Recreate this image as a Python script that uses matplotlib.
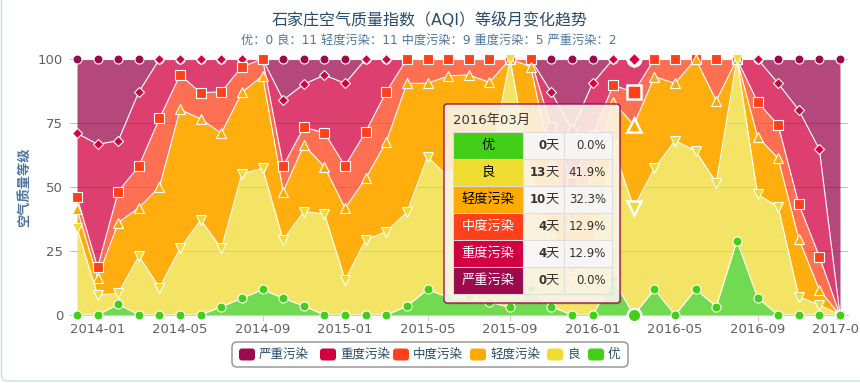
import numpy as np
import pandas as pd
import matplotlib.pyplot as plt
from matplotlib.patches import FancyBboxPatch, Rectangle

plt.rcParams['font.family'] = ['DejaVu Sans', 'Noto Sans CJK SC']

# months 2013-12 .. 2017-01
months = list(pd.date_range('2013-12-01', periods=38, freq='MS').strftime('%Y-%m'))

categories = ['优', '良', '轻度污染', '中度污染', '重度污染', '严重污染']
colors = ['#43CE17', '#EFDC31', '#FFAA00', '#FF401A', '#D20040', '#9C0A4E']
fill_alpha = [0.75, 0.75, 0.95, 0.75, 0.75, 0.75]
markers = ['o', 'v', '^', 's', 'D', 'o']
marker_sizes = [6.5, 7, 7, 6.5, 5, 6.5]

# share of days per level (%)
excellent = [0, 0, 4.2, 0, 0, 0, 0, 3.3, 6.5, 10.0, 6.5, 3.5, 0, 0, 0, 0, 3.5, 10.0, 6.9, 6.9,
             5.0, 3.0, 10.0, 3.3, 0, 0, 13.9, 0, 10.0, 0, 10.0, 3.3, 29.0, 6.8, 0, 0, 0, 0]
good = [33.9, 7.8, 4.3, 23.0, 10.7, 26.0, 37.1, 22.7, 48.6, 47.3, 22.8, 36.9, 39.5, 13.7, 29.3, 32.6,
        36.6, 51.8, 47.1, 53.1, 53.0, 97.0, 45.0, 26.7, 15.0, 25.0, 51.8, 41.9, 47.3, 68.1, 54.1, 48.4,
        71.0, 40.3, 42.3, 7.2, 3.9, 0]
light = [7.5, 6.7, 27.6, 18.9, 39.4, 54.3, 39.5, 45.0, 31.9, 36.1, 18.9, 26.0, 18.4, 28.0, 24.1, 35.1,
         50.4, 28.7, 39.4, 33.8, 32.9, 0, 42.0, 29.5, 20.0, 30.0, 17.6, 32.3, 35.8, 22.4, 35.9, 32.0,
         0, 22.6, 18.9, 22.6, 5.9, 0]
moderate = [4.6, 4.1, 12.1, 16.3, 26.7, 13.5, 10.2, 16.2, 10.0, 6.6, 10.0, 6.9, 13.3, 16.5, 18.2, 19.5,
            9.5, 9.5, 6.6, 6.2, 9.1, 0, 3.0, 13.9, 17.0, 15.0, 6.5, 12.9, 6.9, 9.5, 0, 16.3,
            0, 13.6, 13.0, 13.6, 13.0, 0]
heavy = [25.0, 48.1, 19.9, 29.0, 23.2, 6.2, 13.2, 12.8, 3.0, 0, 25.8, 16.9, 22.5, 32.3, 28.4, 12.8,
         0, 0, 0, 0, 0, 0, 0, 13.6, 20.3, 20.5, 10.2, 12.9, 0, 0, 0, 0, 0, 16.7, 16.3, 36.7, 41.9, 0]
severe = [29.0, 33.3, 31.9, 12.8, 0, 0, 0, 0, 0, 0, 16.0, 9.8, 6.3, 9.5, 0, 0, 0, 0, 0, 0,
          0, 0, 0, 13.0, 27.7, 9.5, 0, 0, 0, 0, 0, 0, 0, 0, 9.5, 19.9, 35.3, 100]

# tooltip month (days per level)
tip_month = '2016年03月'
tip_index = months.index('2016-03')
tip_days = [0, 13, 10, 4, 4, 0]

title = '石家庄空气质量指数（AQI）等级月变化趋势'
subtitle = '优：0 良：11 轻度污染：11 中度污染：9 重度污染：5 严重污染：2'

data = np.array([excellent, good, light, moderate, heavy, severe], dtype=float)
pct = data / data.sum(axis=0) * 100
cum = np.cumsum(pct, axis=0)
x = np.arange(len(months))

W, H = 860, 383
fig = plt.figure(figsize=(W / 100, H / 100), dpi=100)
ax = fig.add_axes([77 / W, 1 - 315 / H, (848 - 77) / W, (315 - 59) / H])

base = np.zeros(len(x))
for k in range(6):
    ax.fill_between(x, base, cum[k], color=colors[k], alpha=fill_alpha[k], lw=0, zorder=2)
    base = cum[k]
for k in range(6):
    ax.plot(x, cum[k], color='white', lw=0.8, zorder=3)
for k in reversed(range(6)):
    ax.plot(x, cum[k], ls='none', marker=markers[k], ms=marker_sizes[k], mfc=colors[k],
            mec='white', mew=0.8, zorder=4, clip_on=False)
# hovered month
for k in reversed(range(6)):
    ax.plot(x[tip_index], cum[k][tip_index], ls='none', marker=markers[k], ms=marker_sizes[k] * 1.5,
            mfc=colors[k], mec='white', mew=1.8, zorder=5, clip_on=False)

ax.set_xlim(0, len(x) - 1 + 8 / 20.6)
ax.set_ylim(0, 100)
ax.set_yticks([0, 25, 50, 75, 100])
ticks = list(range(1, len(x), 4))
ax.set_xticks(ticks, [months[i] for i in ticks])
ax.yaxis.grid(True, color='#C0C0C0', lw=0.75)
ax.set_axisbelow(True)
for s in ['top', 'right', 'left']:
    ax.spines[s].set_visible(False)
ax.spines['bottom'].set_color('#C0D0E0')
ax.tick_params(axis='x', length=4, color='#C0D0E0', pad=2, labelsize=9.5, labelcolor='#606060')
ax.tick_params(axis='y', length=5, color='#C0C0C0', pad=5, labelsize=9.5, labelcolor='#606060')

# overlay in pixel coords for titles, tooltip and legend
ov = fig.add_axes([0, 0, 1, 1], zorder=10)
ov.set_xlim(0, W)
ov.set_ylim(H, 0)
ov.axis('off')

ov.add_patch(FancyBboxPatch((1.5, -20), W + 40, 401, boxstyle='round,pad=0,rounding_size=6',
                            fc='none', ec='#C4E0EA', lw=1))
ov.text(430, 20, title, ha='center', va='center', fontsize=11.5, color='#274b6d')
ov.text(429, 40, subtitle, ha='center', va='center', fontsize=8.8, color='#4d759e')
ov.text(25, 187, '空气质量等级', rotation=90, ha='center', va='center', fontsize=9.5,
        color='#4d759e', fontweight='bold')

# tooltip
tx0, ty0, tw, th = 444, 104, 176, 199
ov.add_patch(FancyBboxPatch((tx0 + 1.5, ty0 + 1.5), tw, th, boxstyle='round,pad=0,rounding_size=3',
                            fc=(0, 0, 0, 0.12), ec='none'))
ov.add_patch(FancyBboxPatch((tx0, ty0), tw, th, boxstyle='round,pad=0,rounding_size=3',
                            fc=(1, 0.975, 0.93, 0.88), ec='#A0104F', lw=1))
ov.text(452.5, 120.5, tip_month, ha='left', va='center', fontsize=9.5, color='#333333')
col_x = [452.7, 523.3, 564.3, 611.7]
row_y, row_h = 132.3, 27
tip_pct = np.array(tip_days) / sum(tip_days) * 100
for r in range(6):
    y0 = row_y + r * row_h
    yc = y0 + row_h / 2
    ov.add_patch(Rectangle((col_x[0], y0), col_x[1] - col_x[0], row_h, fc=colors[r],
                           ec='#DDDDDD', lw=0.75))
    cell_fc = (0.97, 0.97, 0.97, 0.9) if r % 2 == 0 else (1, 1, 1, 0)
    for c in (1, 2):
        ov.add_patch(Rectangle((col_x[c], y0), col_x[c + 1] - col_x[c], row_h, fc=cell_fc,
                               ec='#DDDDDD', lw=0.75))
    ov.text((col_x[0] + col_x[1]) / 2, yc, categories[r], ha='center', va='center', fontsize=9.5,
            color='black' if r < 3 else 'white')
    ov.text(col_x[2] - 6, yc, '天', ha='right', va='center', fontsize=9.5, color='#333333')
    ov.text(col_x[2] - 18, yc, str(tip_days[r]), ha='right', va='center', fontsize=8.5,
            fontweight='bold', color='#333333')
    ov.text(col_x[3] - 5.5, yc, f'{tip_pct[r]:.1f}%', ha='right', va='center', fontsize=8.5,
            color='#333333')

# legend
ov.add_patch(FancyBboxPatch((232, 342), 396, 25, boxstyle='round,pad=0,rounding_size=5',
                            fc='white', ec='#909090', lw=1))
legend_x = [588, 547, 470, 393, 320, 239]
for k in reversed(range(6)):
    ov.add_patch(FancyBboxPatch((legend_x[k], 348.5), 16, 12, boxstyle='round,pad=0,rounding_size=3',
                                fc=colors[k], ec='none'))
    ov.text(legend_x[k] + 20, 354.5, categories[k], ha='left', va='center', fontsize=9,
            color='#274b6d')

fig.savefig('out.png', dpi=100)
